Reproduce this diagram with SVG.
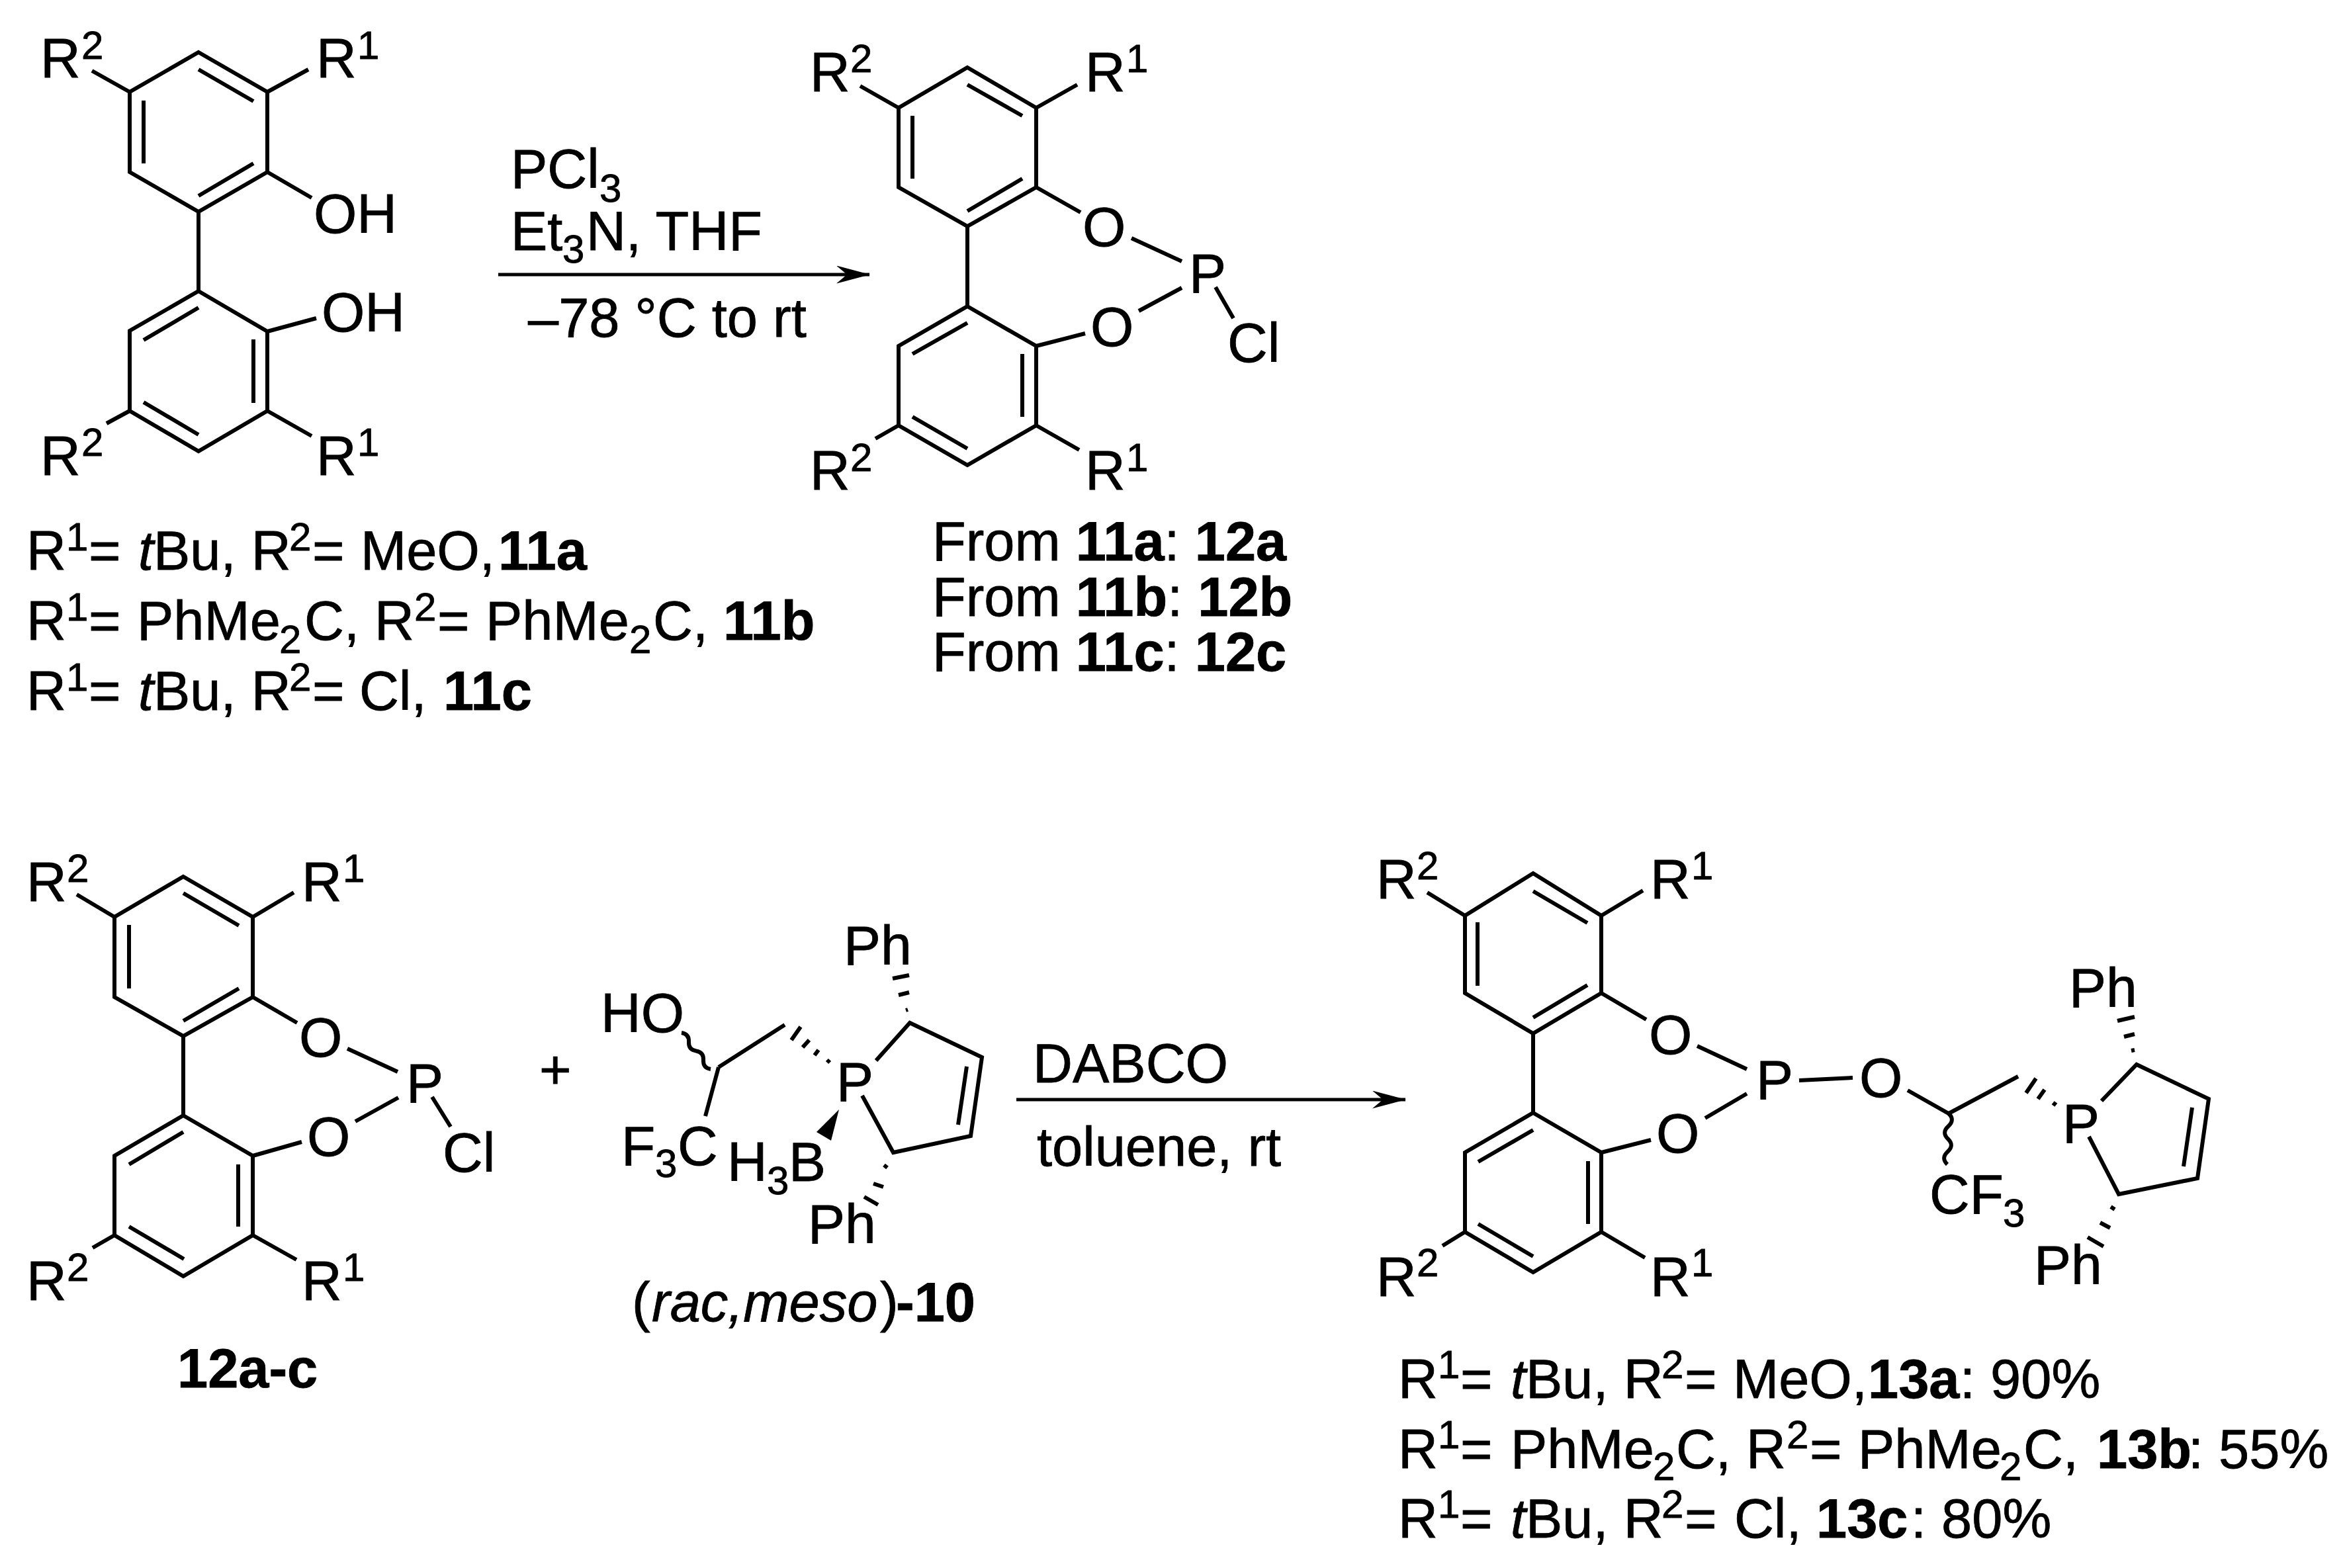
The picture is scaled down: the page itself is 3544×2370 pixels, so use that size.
<svg xmlns="http://www.w3.org/2000/svg" width="3544" height="2370" viewBox="0 0 3544 2370">
<style>
text{font-family:"Liberation Sans",Arial,Helvetica,sans-serif;fill:#000;stroke:#000;stroke-width:.8}
.t{font-size:84px}
.l{font-size:83px}
.s{font-size:60px}
.b{font-weight:bold}
.i{font-style:italic}
.bond{fill:none;stroke:#000;stroke-width:6}
.hash{fill:none;stroke:#000;stroke-width:6}
.arrow{fill:none;stroke:#000;stroke-width:5;marker-end:url(#head)}
</style>
<defs>
<marker id="head" markerUnits="userSpaceOnUse" markerWidth="52" markerHeight="28" refX="50" refY="13.5" orient="auto"><path d="M0,0 L51,13.5 L0,27 L16,13.5Z" fill="#000"/></marker>
</defs>
<rect width="3544" height="2370" fill="#fff"/>
<g id="connectors">
<path class="arrow" d="M753 415 H1314"/>
<path class="arrow" d="M1536 1662 H2124"/>
</g>
<g id="compound-11">
<path class="bond" d="M300 79 L404 139 V260 L300 320 L196 260 V139 Z M300 105 L383 153 M217 152 V247 M300 296 L383 247 M196 139 L139 107 M404 139 L466 105 M404 260 L471 299 M300 320 V440 M300 440 L404 501 V621 L300 682 L196 621 V500 Z M300 465 L217 514 M383 513 V609 M217 608 L300 657 M404 501 L478 481 M196 621 L161 640 M404 621 L471 659"/>
<text class="t" x="61" y="117">R<tspan class="s" x="123" y="89">2</tspan></text>
<text class="t" x="478" y="117">R<tspan class="s" x="540" y="89">1</tspan></text>
<text class="t" x="474" y="352">OH</text>
<text class="t" x="486" y="501">OH</text>
<text class="t" x="61" y="718">R<tspan class="s" x="123" y="689">2</tspan></text>
<text class="t" x="478" y="718">R<tspan class="s" x="540" y="689">1</tspan></text>
</g>
<g id="conditions-1">
<text class="l" x="772" y="284">PCl<tspan class="s" x="906" y="305">3</tspan></text>
<text class="l" x="772" y="378">Et<tspan class="s" x="850" y="397">3</tspan><tspan x="886" y="378">N, THF</tspan></text>
<text class="l" x="798" y="509">–78 °C to rt</text>
</g>
<g id="legend-11">
<text class="l" x="40" y="861">R<tspan class="s" x="100" y="832">1</tspan><tspan x="134" y="861">=</tspan><tspan class="i" x="209" y="861">t</tspan><tspan x="232" y="861">Bu, R</tspan><tspan class="s" x="437" y="832">2</tspan><tspan x="472" y="861">=</tspan><tspan x="545" y="861">MeO,</tspan><tspan class="b" x="753" y="861">11a</tspan></text>
<text class="l" x="40" y="967">R<tspan class="s" x="100" y="938">1</tspan><tspan x="134" y="967">=</tspan><tspan x="207" y="967">PhMe</tspan><tspan class="s" x="422" y="987">2</tspan><tspan x="460" y="967">C, R</tspan><tspan class="s" x="626" y="938">2</tspan><tspan x="661" y="967">=</tspan><tspan x="734" y="967">PhMe</tspan><tspan class="s" x="951" y="987">2</tspan><tspan x="987" y="967">C,</tspan><tspan class="b" x="1093" y="967">11b</tspan></text>
<text class="l" x="40" y="1073">R<tspan class="s" x="100" y="1044">1</tspan><tspan x="134" y="1073">=</tspan><tspan class="i" x="209" y="1073">t</tspan><tspan x="232" y="1073">Bu, R</tspan><tspan class="s" x="437" y="1044">2</tspan><tspan x="472" y="1073">=</tspan><tspan x="543" y="1073">Cl,</tspan><tspan class="b" x="670" y="1073">11c</tspan></text>
</g>
<g id="compound-12">
<path class="bond" d="M1462 102 L1566 163 V283 L1462 342 L1358 283 V163 Z M1462 128 L1545 175 M1379 175 V270 M1462 319 L1545 270 M1358 163 L1300 130 M1566 163 L1628 128 M1566 283 L1633 321 M1462 342 V463 M1462 463 L1566 523 V643 L1462 703 L1358 643 V523 Z M1462 488 L1379 535 M1545 535 V630 M1379 630 L1462 678 M1566 523 L1640 504 M1710 360 L1786 395 M1721 470 L1786 435 M1837 434 L1864 481 M1358 643 L1323 663 M1566 643 L1631 680"/>
<text class="t" x="1224" y="138">R<tspan class="s" x="1285" y="109">2</tspan></text>
<text class="t" x="1640" y="138">R<tspan class="s" x="1702" y="109">1</tspan></text>
<text class="t" x="1636" y="372">O</text>
<text class="t" x="1648" y="523">O</text>
<text class="t" x="1797" y="442">P</text>
<text class="t" x="1855" y="547">Cl</text>
<text class="t" x="1224" y="740">R<tspan class="s" x="1285" y="712">2</tspan></text>
<text class="t" x="1640" y="740">R<tspan class="s" x="1702" y="712">1</tspan></text>
</g>
<g id="legend-12">
<text class="l" x="1409" y="847">From <tspan class="b">11a</tspan>: <tspan class="b">12a</tspan></text>
<text class="l" x="1409" y="931">From <tspan class="b">11b</tspan>: <tspan class="b">12b</tspan></text>
<text class="l" x="1409" y="1014">From <tspan class="b">11c</tspan>: <tspan class="b">12c</tspan></text>
</g>
<g id="compound-12a-c">
<path class="bond" d="M277 1325 L382 1386 V1507 L277 1566 L173 1507 V1386 Z M277 1350 L361 1399 M195 1398 V1494 M277 1543 L361 1494 M173 1386 L116 1352 M382 1386 L444 1349 M382 1507 L449 1546 M277 1566 V1686 M277 1686 L382 1747 V1867 L277 1929 L173 1867 V1747 Z M277 1711 L195 1760 M360 1760 V1854 M195 1854 L278 1903 M382 1747 L456 1726 M525 1585 L601 1620 M537 1695 L602 1659 M653 1658 L681 1703 M173 1867 L140 1886 M382 1867 L448 1904"/>
<text class="t" x="40" y="1362">R<tspan class="s" x="101" y="1333">2</tspan></text>
<text class="t" x="456" y="1362">R<tspan class="s" x="518" y="1333">1</tspan></text>
<text class="t" x="452" y="1597">O</text>
<text class="t" x="464" y="1747">O</text>
<text class="t" x="614" y="1666">P</text>
<text class="t" x="669" y="1771">Cl</text>
<text class="t" x="40" y="1965">R<tspan class="s" x="101" y="1936">2</tspan></text>
<text class="t" x="456" y="1965">R<tspan class="s" x="518" y="1936">1</tspan></text>
<text class="l b" x="268" y="2097">12a-c</text>
</g>
<g id="plus"><text class="l" x="815" y="1645">+</text></g>
<g id="compound-10">
<path class="bond" d="M1030 1561 q11.7,1.9 11,13.75 t11,13.75 t11,13.75 t11,13.75"/>
<path class="bond" d="M1086 1613 L1186 1549 M1086 1613 L1066 1687 M1324 1603 L1375 1546 L1484 1598 L1467 1717 L1350 1742 L1303 1656 M1461 1612 L1448 1700"/>
<path class="hash" d="M1210 1552 L1196 1572 M1223 1572 L1213 1583 M1237 1587 L1231 1595 M1254 1602 L1250 1606 M1349 1479 L1374 1474 M1358 1504 L1374 1500 M1369 1527 L1372 1526 M1306 1809 L1327 1821 M1320 1789 L1335 1794 M1336 1761 L1341 1765"/>
<path d="M1268 1677 L1234 1711 L1256 1724 Z" fill="#000"/>
<text class="t" x="908" y="1560">HO</text>
<text class="t" x="1264" y="1664">P</text>
<text class="t" x="1275" y="1458">Ph</text>
<text class="t" x="939" y="1761">F<tspan class="s" x="990" y="1779">3</tspan><tspan x="1024" y="1761">C</tspan></text>
<text class="t" x="1099" y="1785">H<tspan class="s" x="1159" y="1805">3</tspan><tspan x="1192" y="1785">B</tspan></text>
<text class="t" x="1221" y="1879">Ph</text>
<text class="l" x="955" y="1997">(<tspan class="i" x="985">rac,meso</tspan><tspan x="1330">)</tspan><tspan class="b" x="1354">-10</tspan></text>
</g>
<g id="conditions-2">
<text class="l" x="1561" y="1636">DABCO</text>
<text class="l" x="1567" y="1762">toluene, rt</text>
</g>
<g id="compound-13">
<path class="bond" d="M2317 1320 L2420 1384 V1501 L2317 1562 L2214 1501 V1384 Z M2317 1347 L2399 1395 M2233 1394 V1490 M2317 1538 L2399 1489 M2214 1384 L2157 1349 M2420 1384 L2483 1346 M2420 1501 L2488 1541 M2317 1562 V1682 M2317 1682 L2420 1742 V1862 L2317 1923 L2214 1862 V1742 Z M2317 1708 L2234 1756 M2400 1755 V1850 M2234 1850 L2317 1899 M2420 1742 L2495 1723 M2214 1862 L2180 1883 M2420 1862 L2486 1901 M2565 1581 L2640 1616 M2577 1690 L2640 1653 M2719 1633 L2800 1629 M2883 1648 L2945 1683 L3050 1627 M3176 1664 L3229 1609 L3338 1661 L3321 1781 L3202 1805 L3157 1718 M3313 1674 L3300 1763"/>
<path class="bond" d="M2945 1683 q10,9.6 -0.5,19.25 t-0.5,19.25 t-0.5,19.25 t-0.5,19.25"/>
<path class="hash" d="M3077 1630 L3062 1652 M3090 1647 L3080 1661 M3107 1666 L3103 1671 M3200 1543 L3226 1537 M3210 1567 L3226 1563 M3221 1588 L3226 1587 M3190 1824 L3196 1828 M3174 1848 L3189 1856 M3155 1870 L3179 1884"/>
<text class="t" x="2080" y="1358">R<tspan class="s" x="2141" y="1329">2</tspan></text>
<text class="t" x="2494" y="1358">R<tspan class="s" x="2556" y="1329">1</tspan></text>
<text class="t" x="2492" y="1593">O</text>
<text class="t" x="2503" y="1742">O</text>
<text class="t" x="2654" y="1661">P</text>
<text class="t" x="2810" y="1658">O</text>
<text class="t" x="3117" y="1727">P</text>
<text class="t" x="3127" y="1522">Ph</text>
<text class="t" x="3074" y="1941">Ph</text>
<text class="t" x="2916" y="1834">CF<tspan class="s" x="3027" y="1854">3</tspan></text>
<text class="t" x="2080" y="1959">R<tspan class="s" x="2141" y="1929">2</tspan></text>
<text class="t" x="2494" y="1959">R<tspan class="s" x="2556" y="1929">1</tspan></text>
</g>
<g id="legend-13">
<text class="l" x="2113" y="2113">R<tspan class="s" x="2173" y="2083">1</tspan><tspan x="2207" y="2113">=</tspan><tspan class="i" x="2283" y="2113">t</tspan><tspan x="2306" y="2113">Bu, R</tspan><tspan class="s" x="2511" y="2083">2</tspan><tspan x="2546" y="2113">=</tspan><tspan x="2619" y="2113">MeO,</tspan><tspan class="b" x="2823" y="2113">13a</tspan><tspan x="2962" y="2113">: 90%</tspan></text>
<text class="l" x="2113" y="2219">R<tspan class="s" x="2173" y="2189">1</tspan><tspan x="2207" y="2219">=</tspan><tspan x="2283" y="2219">PhMe</tspan><tspan class="s" x="2498" y="2237">2</tspan><tspan x="2533" y="2219">C, R</tspan><tspan class="s" x="2700" y="2189">2</tspan><tspan x="2735" y="2219">=</tspan><tspan x="2808" y="2219">PhMe</tspan><tspan class="s" x="3022" y="2237">2</tspan><tspan x="3058" y="2219">C,</tspan><tspan class="b" x="3169" y="2219">13b</tspan><tspan x="3307" y="2219">: 55%</tspan></text>
<text class="l" x="2113" y="2324">R<tspan class="s" x="2173" y="2294">1</tspan><tspan x="2207" y="2324">=</tspan><tspan class="i" x="2283" y="2324">t</tspan><tspan x="2306" y="2324">Bu, R</tspan><tspan class="s" x="2511" y="2294">2</tspan><tspan x="2546" y="2324">=</tspan><tspan x="2621" y="2324">Cl,</tspan><tspan class="b" x="2745" y="2324">13c</tspan><tspan x="2888" y="2324">: 80%</tspan></text>
</g>
</svg>
